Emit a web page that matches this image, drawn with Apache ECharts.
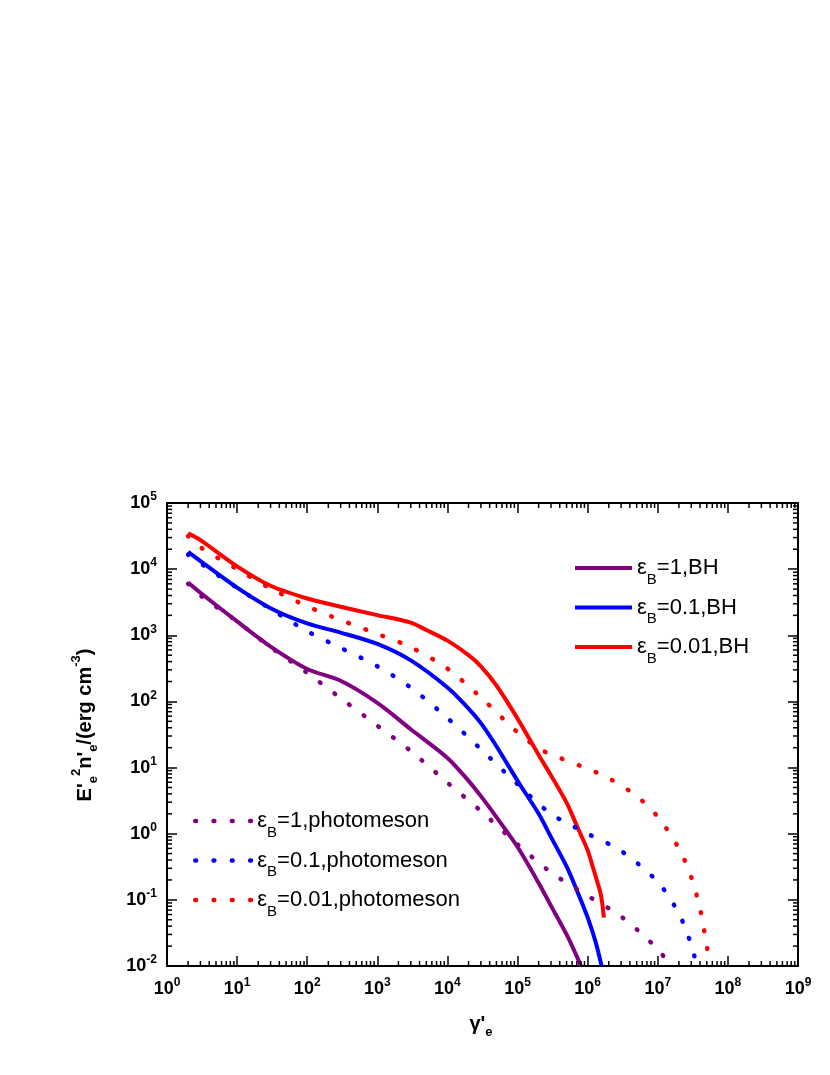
<!DOCTYPE html>
<html>
<head>
<meta charset="utf-8">
<script src="https://cdn.jsdelivr.net/npm/echarts@6/dist/echarts.min.js"></script>
<style>html,body{margin:0;padding:0;background:#fff;}#c{width:830px;height:1075px;}</style>
</head>
<body>
<div id="c"></div>
<script>
// ---- data (gamma'_e, E'^2 n'_e) ----
const bh_1   = [[2,6300],[3,4400],[10,1620],[30,676],[100,310],[300,205],[1000,95],[3000,38],[1e4,14],[2e4,6.3],[3e4,3.7],[5e4,1.78],[1e5,0.63],[2e5,0.18],[3e5,0.081],[5e5,0.030],[7e5,0.014],[8e5,0.01]];
const bh_01  = [[2,18200],[3,13200],[10,5250],[30,2570],[100,1510],[300,1100],[1000,740],[3000,417],[1e4,162],[2e4,78],[3e4,47],[5e4,21],[1e5,6.3],[2e5,2.0],[3e5,0.89],[5e5,0.32],[7e5,0.14],[1e6,0.054],[1.3e6,0.023],[1.58e6,0.01]];
const bh_001 = [[2,34700],[3,27500],[10,11000],[30,5600],[100,3600],[300,2700],[1000,2020],[3000,1550],[5000,1200],[1e4,830],[2e4,500],[3e4,340],[5e4,174],[1e5,55],[2e5,15.5],[3e5,7.6],[5e5,2.95],[7e5,1.32],[1e6,0.56],[1.2e6,0.30],[1.4e6,0.174],[1.55e6,0.117],[1.7e6,0.054]];
const pm_1   = [[2,6000],[3,4000],[10,1620],[30,660],[100,270],[300,112],[1000,43],[3000,17.8],[1e4,5.9],[3e4,2.2],[1e5,0.69],[3e5,0.26],[1e6,0.115],[3e6,0.056],[1e7,0.018],[1.5e7,0.01]];
const pm_01  = [[2,16600],[3,12300],[10,5200],[30,2500],[100,1150],[300,645],[1000,340],[3000,162],[1e4,56],[3e4,19],[1e5,5.6],[3e5,2.0],[1e6,1.0],[3e6,0.55],[1e7,0.186],[2e7,0.062],[3e7,0.021],[3.6e7,0.01]];
const pm_001 = [[2,31600],[3,21400],[10,10000],[30,5100],[100,2750],[300,1700],[1000,1050],[3000,660],[1e4,313],[3e4,115],[1e5,34],[2e5,19.5],[3e5,15.8],[1e6,9.6],[2e6,6.9],[5e6,3.7],[1e7,1.8],[2e7,0.6],[3e7,0.22],[4e7,0.074],[5e7,0.02],[5.6e7,0.01]];

const seriesNames = ['eB=1,BH','eB=0.1,BH','eB=0.01,BH','eB=1,photomeson','eB=0.1,photomeson','eB=0.01,photomeson'];
const legendTexts = {
  'eB=1,BH':'{e|ε}{s|B}{e|=1,BH}',
  'eB=0.1,BH':'{e|ε}{s|B}{e|=0.1,BH}',
  'eB=0.01,BH':'{e|ε}{s|B}{e|=0.01,BH}',
  'eB=1,photomeson':'{e|ε}{s|B}{e|=1,photomeson}',
  'eB=0.1,photomeson':'{e|ε}{s|B}{e|=0.1,photomeson}',
  'eB=0.01,photomeson':'{e|ε}{s|B}{e|=0.01,photomeson}'
};
const xRange = [1, 1e9];
const yRange = [1e-2, 1e5];
const minorMult = [2,3,4,5,6,7,8,9];

const F = '"Liberation Sans", Arial, sans-serif';
const PURPLE = '#800080', BLUE = '#0000FF', RED = '#FF0000';

function decadeMinors(e0, e1){ const out=[]; for(let e=e0;e<e1;e++){ for(const m of minorMult){ out.push(m*Math.pow(10,e)); } } return out; }
const xMinors = decadeMinors(Math.round(Math.log10(xRange[0])), Math.round(Math.log10(xRange[1])));
const yMinors = decadeMinors(Math.round(Math.log10(yRange[0])), Math.round(Math.log10(yRange[1])));

function powLabel(v){ const e = Math.round(Math.log10(v)); return '{b|10}{s|' + e + '}'; }
const labelRich = {
  b:{fontSize:18,fontWeight:'bold',fontFamily:F,color:'#000',lineHeight:24},
  s:{fontSize:12,fontWeight:'bold',fontFamily:F,color:'#000',lineHeight:12,verticalAlign:'top'}
};
const axisLineS = {show:true,onZero:false,lineStyle:{color:'#000',width:2}};
const tickS = {show:true,inside:true,length:10,lineStyle:{color:'#000',width:1.5}};

function xAx(pos, showLabel){
  return {type:'log',logBase:10,min:xRange[0],max:xRange[1],splitNumber:9,position:pos,
    axisLine:axisLineS,axisTick:tickS,splitLine:{show:false},
    axisLabel:{show:showLabel,formatter:powLabel,rich:labelRich,margin:11,hideOverlap:false,showMinLabel:true,showMaxLabel:true}};
}
function yAx(pos, showLabel){
  return {type:'log',logBase:10,min:yRange[0],max:yRange[1],splitNumber:7,position:pos,
    axisLine:axisLineS,axisTick:tickS,splitLine:{show:false},
    axisLabel:{show:showLabel,formatter:powLabel,rich:labelRich,margin:10,hideOverlap:false,showMinLabel:true,showMaxLabel:true}};
}

function solid(name, data, color){
  return {name, type:'line', data, symbol:'none', smooth:0.3, clip:true,
    lineStyle:{color, width:4}, itemStyle:{color}, z:3};
}
function dotted(name, data, color){
  return {name, type:'line', data, symbol:'none', smooth:0.3, clip:true,
    lineStyle:{color, width:4.5, type:[0.8,17.5], cap:'round'}, itemStyle:{color}, z:3};
}

const minorLen = 5;
const minorStyle = {stroke:'#000', lineWidth:1.5};
const xMinorSeries = {
  type:'custom', silent:true, clip:false, z:5, data:xMinors.map(v=>[v,1]),
  encode:{x:0,y:1},
  renderItem:function(params, api){
    const x = api.value(0);
    const b = api.coord([x, yRange[0]]);
    const t = api.coord([x, yRange[1]]);
    return {type:'group',children:[
      {type:'line',shape:{x1:b[0],y1:b[1],x2:b[0],y2:b[1]-minorLen},style:minorStyle},
      {type:'line',shape:{x1:t[0],y1:t[1],x2:t[0],y2:t[1]+minorLen},style:minorStyle}
    ]};
  }
};
const yMinorSeries = {
  type:'custom', silent:true, clip:false, z:5, data:yMinors.map(v=>[10,v]),
  encode:{x:0,y:1},
  renderItem:function(params, api){
    const y = api.value(1);
    const l = api.coord([xRange[0], y]);
    const r = api.coord([xRange[1], y]);
    return {type:'group',children:[
      {type:'line',shape:{x1:l[0],y1:l[1],x2:l[0]+minorLen,y2:l[1]},style:minorStyle},
      {type:'line',shape:{x1:r[0],y1:r[1],x2:r[0]-minorLen,y2:r[1]},style:minorStyle}
    ]};
  }
};

const legendRich = {
  e:{fontSize:22,fontFamily:F,color:'#000',lineHeight:38},
  s:{fontSize:15,fontFamily:F,color:'#000',lineHeight:15,verticalAlign:'bottom'}
};
const titleRich = {
  m:{fontSize:20,fontWeight:'bold',fontFamily:F,fill:'#000',lineHeight:30},
  sub:{fontSize:13,fontWeight:'bold',fontFamily:F,fill:'#000',lineHeight:13,verticalAlign:'bottom'},
  sup:{fontSize:13,fontWeight:'bold',fontFamily:F,fill:'#000',lineHeight:13,verticalAlign:'top'}
};
const legendBase = {orient:'vertical',itemWidth:57,itemHeight:14,itemGap:9.5,
  formatter:n=>legendTexts[n],textStyle:{rich:legendRich},selectedMode:false,
  itemStyle:{opacity:0}};

const option = {
  animation:false,
  backgroundColor:'#ffffff',
  grid:{left:167,right:32,top:503,bottom:109,containLabel:false},
  xAxis:[xAx('bottom',true), xAx('top',false)],
  yAxis:[yAx('left',true), yAx('right',false)],
  legend:[
    Object.assign({data:seriesNames.slice(0,3),left:568,top:552}, legendBase, {lineStyle:{width:4,cap:'butt'}}),
    Object.assign({data:seriesNames.slice(3),left:188,top:805}, legendBase, {lineStyle:{width:4.5,cap:'round'}})
  ],
  graphic:[
    {type:'text',x:85,y:725,rotation:Math.PI/2,silent:true,
     style:{text:"{m|E'}{sub|e}{sup|2}{m|n'}{sub|e}{m|/(erg cm}{sup|-3}{m|)}",rich:titleRich,align:'center',verticalAlign:'middle',fill:'#000'}},
    {type:'text',x:481,y:1024,silent:true,
     style:{text:"{m|γ'}{sub|e}",rich:titleRich,align:'center',verticalAlign:'middle',fill:'#000'}}
  ],
  series:[
    solid(seriesNames[0], bh_1, PURPLE),
    solid(seriesNames[1], bh_01, BLUE),
    solid(seriesNames[2], bh_001, RED),
    dotted(seriesNames[3], pm_1, PURPLE),
    dotted(seriesNames[4], pm_01, BLUE),
    dotted(seriesNames[5], pm_001, RED),
    xMinorSeries, yMinorSeries
  ]
};
const chart = echarts.init(document.getElementById('c'), null, {renderer:'canvas'});
chart.setOption(option);
</script>
</body>
</html>
